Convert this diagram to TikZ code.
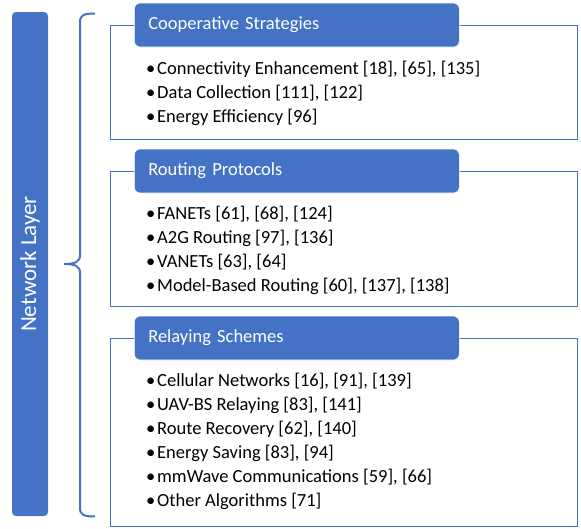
\documentclass[tikz,border=0pt]{standalone}
\usepackage{fontspec}
\setmainfont{Carlito}
\usetikzlibrary{positioning}
\definecolor{layerblue}{HTML}{4472C4}
\newcommand{\itm}{\makebox[11pt][l]{\textbullet}}
\tikzset{x=1pt, y=-1pt, % Pixel-like units, y grows downwards
layerbox/.style={ % The tall bar on the left
fill=layerblue, rounded corners=4pt, rotate=90,
minimum width=504pt, minimum height=36pt, inner sep=0pt,
text=white, font=\fontsize{23}{26}\selectfont},
frame/.style={ % Outline round each group
draw=layerblue, line width=1.1pt, anchor=north west, inner sep=0pt},
header/.style={ % Title tab on top of each frame
fill=layerblue, draw=white, line width=0.6pt, rounded corners=6pt,
anchor=west, minimum width=325pt, minimum height=44pt,
text width=297pt, align=left, text=white,
font=\fontsize{18.5}{22}\selectfont},
items/.style={ % Bullet list inside a frame
anchor=north west, align=left, inner sep=0pt,
font=\fontsize{18.5}{24}\selectfont},
brace/.style={draw=layerblue, line width=2pt}}

\begin{document}
\begin{tikzpicture}
    \useasboundingbox (0,0) rectangle (581,528);
    \node[layerbox] (layer) at (30,264) {Network Layer};
    % frames
    \node[frame, minimum width=467pt, minimum height=114pt] (coopbox) at (110,25) {};
    \node[frame, minimum width=467pt, minimum height=135pt] (routbox) at (110,171) {};
    \node[frame, minimum width=467pt, minimum height=188pt] (relaybox) at (110,338) {};
    % headers
    \node[header, right=24pt of coopbox.north west, anchor=west] (coop) {Cooperative Strategies};
    \node[header, right=24pt of routbox.north west, anchor=west] (rout) {Routing Protocols};
    \node[header, right=24pt of relaybox.north west, anchor=west] (relay) {Relaying Schemes};
    % lists
    \node[items, below right=14pt and 12pt of coop.south west] (coopitems) {%
        \itm Connectivity Enhancement [18], [65], [135]\\
        \itm Data Collection [111], [122]\\
        \itm Energy Efficiency [96]};
    \node[items, below right=13pt and 12pt of rout.south west] (routitems) {%
        \itm FANETs [61], [68], [124]\\
        \itm A2G Routing [97], [136]\\
        \itm VANETs [63], [64]\\
        \itm Model-Based Routing [60], [137], [138]};
    \node[items, below right=13pt and 12pt of relay.south west] (relayitems) {%
        \itm Cellular Networks [16], [91], [139]\\
        \itm UAV-BS Relaying [83], [141]\\
        \itm Route Recovery [62], [140]\\
        \itm Energy Saving [83], [94]\\
        \itm mmWave Communications [59], [66]\\
        \itm Other Algorithms [71]};
    % brace from the bar to the groups
    \coordinate (bracetop) at (95,13.5);
    \coordinate (bracetip) at (64,264);
    \coordinate (bracebot) at (95,516.5);
    \draw[brace] (bracetop) .. controls (84,13.5) and (80,15) .. (80,22)
        -- (80,255) .. controls (80,262) and (75,264) .. (bracetip)
        .. controls (75,264) and (80,266) .. (80,273)
        -- (80,508) .. controls (80,515) and (84,516.5) .. (bracebot);
\end{tikzpicture}
\end{document}
